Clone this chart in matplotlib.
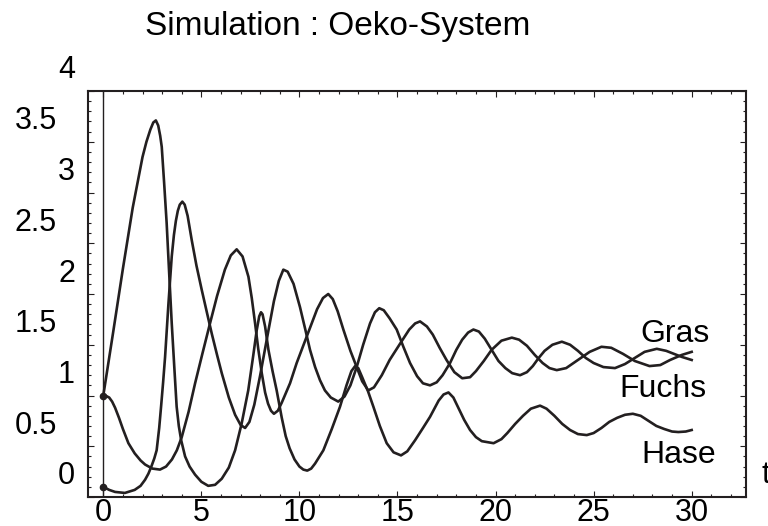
import numpy as np
import matplotlib
matplotlib.use('Agg')
import matplotlib.pyplot as plt
from matplotlib.transforms import ScaledTranslation

plt.rcParams['font.family'] = ['Liberation Sans', 'DejaVu Sans']

# Hase
t_hase = [0.0, 0.5, 1.0, 1.5, 1.8, 2.0, 2.2, 2.4, 2.55, 2.68, 2.8, 2.9, 2.98, 3.1,
          3.23, 3.36, 3.49, 3.62, 3.74, 3.85, 3.97, 4.17, 4.4, 4.68, 5.0, 5.35, 5.7,
          6.04, 6.4, 6.72, 7.05, 7.39, 7.65, 7.82, 7.95, 8.04, 8.12, 8.25, 8.42, 8.63,
          8.84, 9.1, 9.3, 9.5, 9.75, 10.0, 10.2, 10.4, 10.6, 10.8, 11.22, 11.65, 12.07,
          12.4, 12.65, 12.84, 13.0, 13.2, 13.5, 13.77, 14.1, 14.45, 14.8, 15.18, 15.5,
          15.9, 16.3, 16.66, 17.1, 17.35, 17.6, 17.85, 18.1, 18.4, 18.7, 19.0, 19.3,
          19.9, 20.3, 20.6, 21.0, 21.4, 21.8, 22.27, 22.6, 23.0, 23.4, 23.8, 24.2,
          24.65, 25.0, 25.4, 25.8, 26.2, 26.6, 27.0, 27.4, 27.8, 28.2, 28.6, 29.0,
          29.32, 29.7, 30.0]
v_hase = [1.00, 1.62, 2.25, 2.85, 3.15, 3.35, 3.50, 3.62, 3.69, 3.71, 3.66, 3.56, 3.45, 3.10,
          2.70, 2.20, 1.71, 1.28, 0.89, 0.70, 0.56, 0.40, 0.30, 0.22, 0.15, 0.11, 0.12,
          0.18, 0.29, 0.46, 0.72, 1.05, 1.40, 1.64, 1.78, 1.82, 1.80, 1.68, 1.45, 1.24,
          1.05, 0.78, 0.60, 0.48, 0.37, 0.30, 0.27, 0.26, 0.28, 0.33, 0.46, 0.67, 0.89,
          1.10, 1.24, 1.29, 1.27, 1.18, 1.04, 0.89, 0.70, 0.53, 0.44, 0.41, 0.45,
          0.56, 0.68, 0.79, 0.95, 1.01, 1.03, 0.98, 0.88, 0.76, 0.66, 0.59, 0.55,
          0.53, 0.57, 0.63, 0.72, 0.80, 0.87, 0.90, 0.87, 0.80, 0.72, 0.66, 0.62,
          0.61, 0.63, 0.68, 0.74, 0.78, 0.81, 0.82, 0.80, 0.75, 0.70, 0.67, 0.645,
          0.64, 0.645, 0.66]

# Fuchs
t_fuchs = [0.0, 0.3, 0.6, 1.1, 1.6, 1.9, 2.13, 2.3, 2.45, 2.6, 2.72, 2.85, 2.95, 3.05,
           3.15, 3.32, 3.49, 3.6, 3.7, 3.8, 3.9, 4.03, 4.15, 4.3, 4.51, 4.75, 5.02, 5.28,
           5.53, 5.8, 6.04, 6.4, 6.72, 7.0, 7.23, 7.45, 7.7, 8.0, 8.4, 8.7, 8.95, 9.18,
           9.4, 9.7, 10.03, 10.3, 10.54, 10.8, 11.05, 11.3, 11.6, 11.98, 12.3, 12.6,
           12.92, 13.25, 13.6, 13.85, 14.07, 14.3, 14.6, 14.96, 15.3, 15.64, 16.0, 16.3,
           16.66, 17.0, 17.3, 17.68, 18.0, 18.3, 18.6, 18.87, 19.15, 19.45, 19.8, 20.15,
           20.5, 20.85, 21.25, 21.6, 21.9, 22.2, 22.5, 22.9, 23.38, 23.8, 24.2, 24.6,
           25.0, 25.5, 26.09, 26.6, 27.1, 27.6, 28.22, 28.7, 29.1, 29.5, 30.0]
v_fuchs = [0.10, 0.07, 0.05, 0.04, 0.07, 0.11, 0.17, 0.23, 0.30, 0.38, 0.46, 0.68, 0.90, 1.13,
           1.38, 1.90, 2.37, 2.58, 2.72, 2.82, 2.88, 2.91, 2.88, 2.77, 2.53, 2.28, 2.04, 1.82,
           1.61, 1.40, 1.22, 0.98, 0.81, 0.71, 0.68, 0.74, 0.91, 1.20, 1.62, 1.93, 2.13, 2.24,
           2.22, 2.10, 1.87, 1.65, 1.45, 1.28, 1.15, 1.05, 0.98, 0.94, 0.99, 1.10,
           1.28, 1.50, 1.71, 1.82, 1.86, 1.84, 1.76, 1.65, 1.48, 1.32, 1.19, 1.12,
           1.10, 1.13, 1.20, 1.32, 1.45, 1.55, 1.62, 1.65, 1.63, 1.56, 1.45, 1.34,
           1.27, 1.22, 1.20, 1.23, 1.29, 1.37, 1.44, 1.50, 1.53, 1.50, 1.44, 1.37,
           1.32, 1.28, 1.27, 1.31, 1.37, 1.43, 1.46, 1.44, 1.41, 1.38, 1.35]

# Gras
t_gras = [0.0, 0.15, 0.3, 0.45, 0.6, 0.8, 1.0, 1.28, 1.6, 1.9, 2.13, 2.5, 2.89, 3.2,
          3.5, 3.75, 4.0, 4.35, 4.68, 5.05, 5.44, 5.8, 6.2, 6.5, 6.8, 7.1, 7.4, 7.57,
          7.74, 7.9, 8.08, 8.25, 8.4, 8.55, 8.7, 8.9, 9.1, 9.52, 9.86, 10.37, 10.9,
          11.2, 11.47, 11.7, 11.95, 12.24, 12.6, 12.92, 13.2, 13.51, 13.8, 14.2, 14.6,
          15.13, 15.6, 15.9, 16.15, 16.5, 16.8, 17.15, 17.5, 17.9, 18.3, 18.7, 19.0,
          19.4, 19.8, 20.3, 20.83, 21.2, 21.6, 22.0, 22.4, 22.75, 23.12, 23.6, 24.2,
          24.8, 25.4, 25.9, 26.5, 27.1, 27.85, 28.4, 28.9, 29.5, 30.0]
v_gras = [1.00, 0.995, 0.98, 0.94, 0.88, 0.78, 0.67, 0.53, 0.43, 0.36, 0.32, 0.28, 0.27, 0.30,
          0.37, 0.46, 0.59, 0.84, 1.12, 1.41, 1.71, 1.98, 2.24, 2.38, 2.44, 2.37, 2.17, 1.96,
          1.71, 1.46, 1.22, 1.03, 0.92, 0.85, 0.82, 0.85, 0.93, 1.12, 1.32, 1.58, 1.85,
          1.96, 2.00, 1.95, 1.83, 1.65, 1.44, 1.28, 1.14, 1.05, 1.08, 1.20, 1.35,
          1.51, 1.65, 1.71, 1.73, 1.68, 1.60, 1.47, 1.35, 1.23, 1.17, 1.18, 1.24,
          1.34, 1.45, 1.54, 1.57, 1.55, 1.49, 1.40, 1.32, 1.27, 1.25, 1.27, 1.35,
          1.43, 1.48, 1.47, 1.41, 1.34, 1.29, 1.30, 1.35, 1.40, 1.43]

x_ticks = [0, 5, 10, 15, 20, 25, 30]
y_ticks = [0, 0.5, 1, 1.5, 2, 2.5, 3, 3.5, 4]
y_ticklabels = ['0', '0.5', '1', '1.5', '2', '2.5', '3', '3.5', '4']

fig = plt.figure(figsize=(7.68, 5.26), dpi=100)
ax = fig.add_axes([88 / 768, 29 / 526, 658 / 768, 406 / 526])

# Kurven
ax.plot(t_hase, v_hase, color='#231f20', lw=1.9)
ax.plot(t_fuchs, v_fuchs, color='#231f20', lw=1.9)
ax.plot(t_gras, v_gras, color='#231f20', lw=1.9)
ax.plot([t_hase[0], t_fuchs[0]], [v_hase[0], v_fuchs[0]], 'o', color='#231f20', ms=4.5)

# senkrechte Achse bei t = 0
ax.axvline(0, color='#231f20', lw=1.0)

ax.set_xlim(-0.78, 32.77)
ax.set_ylim(0, 4)

for s in ax.spines.values():
    s.set_linewidth(1.5)
    s.set_color('#231f20')

ax.set_xticks(x_ticks)
ax.set_xticks(np.arange(0, 33, 1), minor=True)
ax.set_yticks(y_ticks)
ax.set_yticklabels(y_ticklabels)
ax.set_yticks(np.arange(0, 4.01, 0.1), minor=True)
ax.tick_params(which='both', direction='in', top=True, right=True, color='#231f20', width=0.8)
ax.tick_params(which='major', length=4.5)
ax.tick_params(which='minor', length=2.5)
ax.tick_params(axis='x', labelsize=22, pad=1.0)
ax.tick_params(axis='y', labelsize=22, pad=9.4)

# Beschriftungen links nach oben versetzt wie im Original
for lab, val in zip(ax.get_yticklabels(), y_ticks):
    dx = 0 if float(val).is_integer() else -18
    lab.set_transform(lab.get_transform() + ScaledTranslation(dx / 100, 24 / 100, fig.dpi_scale_trans))

ax.text(27.37, 1.53, 'Gras', fontsize=23, ha='left', va='baseline')
ax.text(26.31, 0.988, 'Fuchs', fontsize=23, ha='left', va='baseline')
ax.text(27.45, 0.338, 'Hase', fontsize=23, ha='left', va='baseline')

fig.text(762 / 768, 1 - 483 / 526, 't', fontsize=22, ha='left', va='baseline')
fig.text(145 / 768, 1 - 35 / 526, 'Simulation : Oeko-System', fontsize=24, ha='left', va='baseline')

fig.savefig('out.png', dpi=100)
